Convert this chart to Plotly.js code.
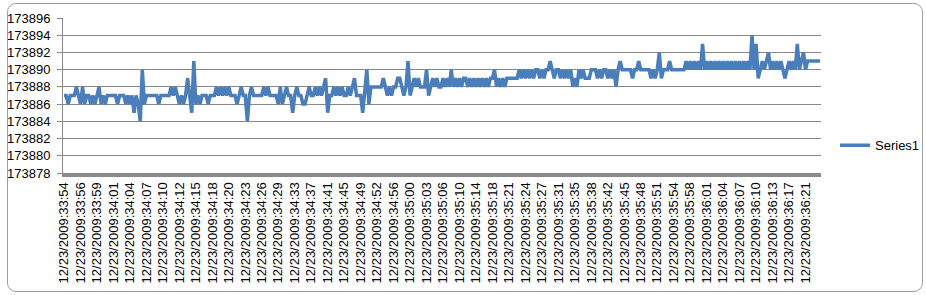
<!DOCTYPE html>
<html><head><meta charset="utf-8">
<script src="https://cdn.plot.ly/plotly-3.0.1.min.js"></script>
<style>
html,body{margin:0;padding:0;background:#fff;width:926px;height:295px;overflow:hidden;}
#frame{position:absolute;left:7px;top:3px;width:914px;height:287px;border:1px solid #a0a0a0;border-radius:9px;background:#fff;}
#chart{position:absolute;left:0;top:0;width:926px;height:295px;}
</style></head><body>
<div id="frame"></div><div id="chart"></div>
<script>
const seriesName = 'Series1';
const readings = [
173887,173887,173886,173887,173887,173887,173888,173887,173886,173888,
173886,173887,173887,173886,173887,173886,173887,173888,173886,173887,
173886,173887,173887,173887,173887,173887,173886,173887,173887,173887,
173886,173887,173886,173887,173885,173887,173886,173884,173890,173886,
173887,173887,173887,173887,173887,173887,173886,173887,173887,173887,
173887,173887,173888,173887,173888,173887,173886,173887,173886,173887,
173889,173887,173885,173891,173886,173887,173886,173887,173887,173887,
173886,173887,173887,173887,173888,173887,173888,173887,173888,173887,
173888,173887,173887,173887,173886,173887,173888,173887,173887,173884,
173887,173888,173887,173887,173887,173887,173887,173888,173887,173888,
173887,173887,173887,173887,173886,173888,173886,173887,173888,173887,
173887,173885,173887,173888,173887,173887,173886,173886,173887,173888,
173887,173887,173888,173887,173888,173887,173888,173889,173885,173887,
173887,173888,173887,173888,173887,173888,173887,173887,173888,173887,
173888,173889,173887,173887,173887,173885,173888,173890,173886,173888,
173888,173888,173888,173888,173888,173889,173888,173887,173888,173887,
173888,173888,173889,173889,173888,173887,173888,173891,173887,173888,
173889,173888,173889,173888,173888,173888,173890,173887,173888,173889,
173888,173889,173888,173888,173889,173888,173889,173888,173890,173888,
173889,173888,173889,173888,173889,173889,173888,173889,173888,173889,
173888,173889,173888,173889,173888,173889,173888,173889,173889,173890,
173888,173889,173888,173889,173888,173889,173889,173889,173889,173889,
173889,173890,173889,173890,173889,173890,173889,173890,173889,173890,
173890,173889,173890,173889,173890,173890,173891,173890,173889,173890,
173890,173889,173890,173889,173890,173889,173890,173888,173889,173888,
173890,173889,173890,173889,173889,173889,173890,173890,173890,173889,
173890,173889,173890,173890,173889,173890,173889,173890,173888,173890,
173891,173890,173890,173890,173890,173890,173889,173890,173890,173891,
173890,173890,173890,173890,173890,173889,173890,173889,173890,173892,
173889,173890,173890,173890,173891,173890,173890,173890,173890,173890,
173890,173890,173891,173890,173891,173890,173891,173890,173891,173890,
173893,173890,173891,173890,173891,173890,173891,173890,173891,173890,
173891,173890,173891,173890,173891,173890,173891,173890,173891,173890,
173891,173890,173891,173890,173894,173890,173893,173889,173890,173891,
173890,173891,173892,173890,173891,173890,173891,173890,173891,173890,
173889,173890,173891,173890,173891,173890,173893,173890,173891,173892,
173890,173891,173891,173891,173891,173891,173891,173891
];
const tickLabels = [
'12/23/2009:33:54','12/23/2009:33:56','12/23/2009:33:59','12/23/2009:34:01','12/23/2009:34:04',
'12/23/2009:34:07','12/23/2009:34:10','12/23/2009:34:12','12/23/2009:34:15','12/23/2009:34:18',
'12/23/2009:34:20','12/23/2009:34:23','12/23/2009:34:26','12/23/2009:34:29','12/23/2009:34:33',
'12/23/2009:34:37','12/23/2009:34:41','12/23/2009:34:45','12/23/2009:34:49','12/23/2009:34:52',
'12/23/2009:34:56','12/23/2009:35:00','12/23/2009:35:03','12/23/2009:35:06','12/23/2009:35:10',
'12/23/2009:35:14','12/23/2009:35:18','12/23/2009:35:21','12/23/2009:35:24','12/23/2009:35:27',
'12/23/2009:35:31','12/23/2009:35:35','12/23/2009:35:38','12/23/2009:35:42','12/23/2009:35:45',
'12/23/2009:35:48','12/23/2009:35:51','12/23/2009:35:54','12/23/2009:35:58','12/23/2009:36:01',
'12/23/2009:36:04','12/23/2009:36:07','12/23/2009:36:10','12/23/2009:36:13','12/23/2009:36:17',
'12/23/2009:36:21'
];
const labelStep = 8;
const yTicks = [173878,173880,173882,173884,173886,173888,173890,173892,173894,173896];

const xIdx = readings.map((v, i) => i);
const tickVals = tickLabels.map((t, k) => k * labelStep);
const font = {family: 'Liberation Sans, Arial, sans-serif', size: 13, color: '#000'};

Plotly.newPlot('chart', [{
  type: 'scatter', mode: 'lines', name: seriesName,
  x: xIdx, y: readings,
  line: {color: '#4a7ebb', width: 3.5}
}], {
  width: 926, height: 295,
  margin: {l: 63, r: 105, t: 18, b: 122, autoexpand: false},
  paper_bgcolor: 'rgba(0,0,0,0)', plot_bgcolor: '#fff',
  font: font,
  showlegend: true,
  legend: {x: 1.0185, y: 0.178, yanchor: 'middle', xanchor: 'left', font: {family: 'Liberation Sans, Arial, sans-serif', size: 13}, bgcolor: 'rgba(0,0,0,0)'},
  xaxis: {
    range: [-0.5, readings.length - 0.5],
    tickmode: 'array', tickvals: tickVals, ticktext: tickLabels,
    tickangle: -90, showgrid: false, zeroline: false,
    showline: true, linecolor: '#8a8a8a', linewidth: 4,
    ticks: '', tickfont: font, fixedrange: true, automargin: false
  },
  yaxis: {
    range: [173878, 173896],
    tickmode: 'array', tickvals: yTicks, tickformat: 'd',
    showgrid: true, gridcolor: '#888888', gridwidth: 1,
    zeroline: false, showline: true, linecolor: '#888888', linewidth: 1,
    ticks: 'outside', ticklen: 5, tickcolor: '#888888', ticklabelstandoff: 4,
    tickfont: font, fixedrange: true, automargin: false
  }
}, {staticPlot: true});
</script>
</body></html>
